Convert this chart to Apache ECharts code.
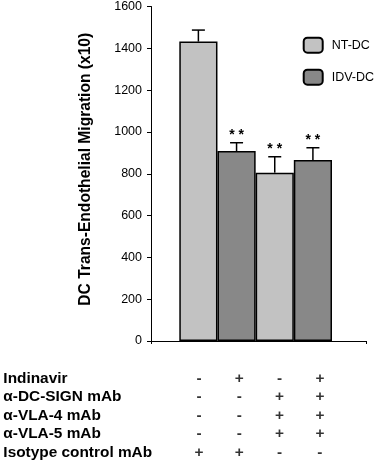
<!DOCTYPE html>
<html>
<head>
<meta charset="utf-8">
<script src="https://cdn.jsdelivr.net/npm/echarts@6/dist/echarts.min.js"></script>
<style>html,body{margin:0;padding:0;background:#fff}#c{width:378px;height:463px}</style>
</head>
<body>
<div id="c"></div>
<script>
// ---- data ----
const barCategories = ['Isotype / NT-DC', 'Isotype / IDV-DC', 'Blocking mAbs / NT-DC', 'Blocking mAbs / IDV-DC'];
const ntDC = [1430, '-', 804, '-'];
const idvDC = ['-', 907, '-', 864];
const errUp = [55, 40, 76, 59];
const signif = ['', '**', '**', '**'];
const yMin = 0, yMax = 1600, yStep = 200;
const yTitle = 'DC Trans-Endothelial Migration (x10)';
const rowNames = ['Indinavir', 'α-DC-SIGN mAb', 'α-VLA-4 mAb', 'α-VLA-5 mAb', 'Isotype control mAb'];
const indinavir = ['-', '+', '-', '+'];
const dcSign = ['-', '-', '+', '+'];
const vla4 = ['-', '-', '+', '+'];
const vla5 = ['-', '-', '+', '+'];
const isotype = ['+', '+', '-', '-'];

// ---- build ----
const FONT = '"Liberation Sans", Arial, sans-serif';
const tableRows = [indinavir, dcSign, vla4, vla5, isotype];
const tableData = [];
tableRows.forEach((row, r) => row.forEach((s, c) => tableData.push([c, r, s])));
const errData = barCategories.map((c, i) => {
  const v = ntDC[i] !== '-' ? ntDC[i] : idvDC[i];
  return [i, v, errUp[i], signif[i]];
});

const chart = echarts.init(document.getElementById('c'), null, {renderer: 'canvas'});
chart.setOption({
  animation: false,
  backgroundColor: '#fff',
  textStyle: {fontFamily: FONT},
  grid: [
    {left: 151, right: 12, top: 6, bottom: 122},
    {left: 179.3, right: 46, top: 6, bottom: 122},
    {left: 178.85, width: 161.2, top: 369, height: 92.5}
  ],
  legend: {
    data: ['NT-DC', 'IDV-DC'],
    orient: 'vertical',
    left: 297.7, top: 31.7,
    itemWidth: 19, itemHeight: 15, itemGap: 15,
    textStyle: {fontSize: 12.5, color: '#000', fontFamily: FONT, padding: [0, 0, 0, 4]}
  },
  xAxis: [
    {gridIndex: 0, type: 'category', data: [''], boundaryGap: true,
     axisLine: {lineStyle: {color: '#000', width: 1}},
     axisTick: {show: true, length: 3, lineStyle: {color: '#000'}},
     axisLabel: {show: false}},
    {gridIndex: 1, type: 'category', data: barCategories, show: false},
    {gridIndex: 2, type: 'category', data: barCategories, show: false}
  ],
  yAxis: [
    {gridIndex: 0, type: 'value', min: yMin, max: yMax, interval: yStep,
     name: yTitle, nameLocation: 'middle', nameGap: 57,
     nameTextStyle: {fontSize: 15.6, fontWeight: 'bold', color: '#000', fontFamily: FONT, padding: [0, 0, 0, 9]},
     axisLine: {show: true, lineStyle: {color: '#000', width: 1}},
     axisTick: {show: true, length: 4, lineStyle: {color: '#000'}},
     axisLabel: {fontSize: 12.5, color: '#000', margin: 9, fontFamily: FONT, formatter: v => String(v)},
     splitLine: {show: false}},
    {gridIndex: 1, type: 'value', min: yMin, max: yMax, show: false},
    {gridIndex: 2, type: 'category', data: rowNames, inverse: true,
     axisLine: {show: false}, axisTick: {show: false},
     axisLabel: {interval: 0, align: 'left', margin: 175.5, fontSize: 15.4, fontWeight: 'bold', color: '#000', fontFamily: FONT}}
  ],
  series: [
    {name: 'NT-DC', type: 'bar', xAxisIndex: 1, yAxisIndex: 1, data: ntDC,
     barWidth: '100%', barGap: '-100%',
     itemStyle: {color: '#c2c2c2', borderColor: '#000', borderWidth: 1.5}},
    {name: 'IDV-DC', type: 'bar', xAxisIndex: 1, yAxisIndex: 1, data: idvDC,
     barWidth: '100%', barGap: '-100%',
     itemStyle: {color: '#888888', borderColor: '#000', borderWidth: 1.5}},
    {type: 'custom', xAxisIndex: 1, yAxisIndex: 1, data: errData, z: 5,
     encode: {x: 0, y: 1},
     renderItem: function (params, api) {
       const i = api.value(0);
       const base = api.coord([i, api.value(1)]);
       const top = api.coord([i, api.value(1) + api.value(2)]);
       const sig = errData[params.dataIndex][3].split('').join(' ');
       const st = {stroke: '#000', lineWidth: 1.5};
       return {type: 'group', children: [
         {type: 'line', shape: {x1: base[0], y1: base[1], x2: top[0], y2: top[1]}, style: st},
         {type: 'line', shape: {x1: top[0] - 6.5, y1: top[1], x2: top[0] + 6.5, y2: top[1]}, style: st},
         {type: 'text', style: {text: sig, x: top[0], y: top[1] - 1, align: 'center', verticalAlign: 'bottom',
           font: 'bold 14px ' + FONT, fill: '#000'}}
       ]};
     }},
    {type: 'scatter', xAxisIndex: 2, yAxisIndex: 2, data: tableData,
     symbolSize: 1, itemStyle: {color: 'transparent'},
     label: {show: true, position: 'inside', formatter: p => p.value[2],
       fontSize: 15.4, fontWeight: 'bold', color: '#000', fontFamily: FONT}}
  ]
});
</script>
</body>
</html>
